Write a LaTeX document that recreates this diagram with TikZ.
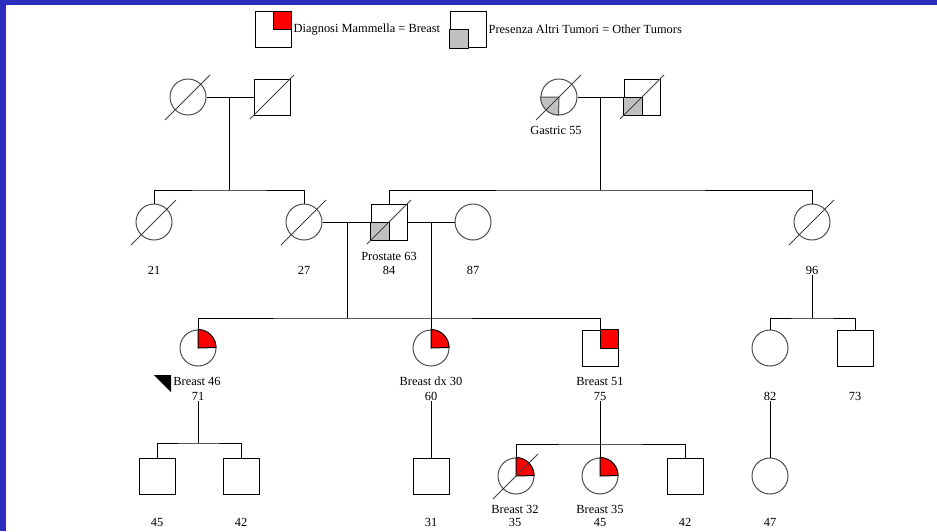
\documentclass[tikz,border=0pt]{standalone}
\usepackage{fontspec}
\setmainfont{Liberation Serif}
\usetikzlibrary{positioning}

\definecolor{frameblue}{RGB}{46,46,190}
\definecolor{silver}{RGB}{192,192,192}

\tikzset{
  female/.style={circle,draw=gray!60!black,line width=1pt,minimum size=36pt,inner sep=0pt},
  male/.style={rectangle,draw=black,line width=1pt,minimum size=36pt,inner sep=0pt},
  strike/.style={draw=gray!50!black,line width=0.8pt},
  link/.style={draw=black,line width=1pt},
  lbl/.style={inner sep=1pt,font=\fontsize{12.4}{15}\selectfont}
}

\begin{document}
\begin{tikzpicture}[x=1pt,y=1pt]
			\useasboundingbox (0,0) rectangle (937,-531);
			% slide frame
			\fill[frameblue] (0,0) rectangle (937,-5);
			\fill[frameblue] (0,0) rectangle (6,-531);
			% legend
			\node[male] (legA) at (273,-29.5) {};
			\filldraw[fill=red,line width=1pt] (legA.center) rectangle (legA.north east);
			\node[lbl,right=1pt of legA] (legAt) {Diagnosi Mammella = Breast};
			\node[male] (legB) at (468,-29.5) {};
			\filldraw[fill=silver,line width=1pt] (legB.center) rectangle (legB.south west);
			\node[lbl,right=1pt of legB] (legBt) {Presenza Altri Tumori = Other Tumors};
			% generation I
			\node[female] (gm1) at (188,-97) {};
			\node[male] (gf1) at (272,-97) {};
			\node[female] (gm2) at (559,-97) {};
			\node[male] (gf2) at (642,-97) {};
			\filldraw[fill=silver,draw=gray!60!black,line width=1pt] (gm2.center) -- (gm2.west) arc[start angle=180,end angle=270,radius=18pt] -- cycle;
			\filldraw[fill=silver,line width=1pt] (gf2.center) rectangle (gf2.south west);
			\draw[strike] (gm1.center) +(-23,-23) -- +(22,22);
			\draw[strike] (gf1.center) +(-22,-22) -- +(22,22);
			\draw[strike] (gm2.center) +(-23,-23) -- +(22,22);
			\draw[strike] (gf2.center) +(-22,-22) -- +(22,22);
			\node[lbl] (tgm2) at (556,-130) {Gastric 55};
			\draw[link] (gm1) -- (gf1);
			\draw[link] (gm2) -- (gf2);
			\coordinate (d1) at (229,-97);
			\coordinate (s1) at (229,-190);
			\coordinate (d2) at (600,-97);
			\coordinate (s2) at (600,-190);
			% generation II
			\node[female] (p21) at (154,-222) {};
			\node[female] (p27) at (304,-222) {};
			\node[male] (p84) at (389,-222) {};
			\node[female] (p87) at (473,-222) {};
			\node[female] (p96) at (812,-222) {};
			\filldraw[fill=silver,line width=1pt] (p84.center) rectangle (p84.south west);
			\draw[strike] (p21.center) +(-23,-23) -- +(22,22);
			\draw[strike] (p27.center) +(-23,-23) -- +(22,22);
			\draw[strike] (p84.center) +(-22,-22) -- +(22,22);
			\draw[strike] (p96.center) +(-23,-23) -- +(22,22);
			\draw[link] (d1) -- (s1);
			\draw[link] (p21.north) |- (s1) -| (p27.north);
			\draw[link] (d2) -- (s2);
			\draw[link] (p84.north) |- (s2) -| (p96.north);
			\draw[link] (p27) -- (p84);
			\draw[link] (p84) -- (p87);
			\node[lbl] (t84) at (389,-256) {Prostate 63};
			\node[lbl] (a21) at (154,-270) {21};
			\node[lbl] (a27) at (304,-270) {27};
			\node[lbl] (a84) at (389,-270) {84};
			\node[lbl] (a87) at (473,-270) {87};
			\node[lbl] (a96) at (812,-270) {96};
			\coordinate (d3) at (347,-222);
			\coordinate (d4) at (431,-222);
			\coordinate (s3) at (347,-318);
			\coordinate (s4) at (812,-318);
			% generation III
			\node[female] (p71) at (198,-348) {};
			\node[female] (p60) at (431,-348) {};
			\node[male] (p75) at (600,-348) {};
			\node[female] (p82) at (770,-348) {};
			\node[male] (p73) at (855,-348) {};
			\filldraw[fill=red,draw=black,line width=1pt] (p71.center) -- (p71.north) arc[start angle=90,end angle=0,radius=18pt] -- cycle;
			\filldraw[fill=red,draw=black,line width=1pt] (p60.center) -- (p60.north) arc[start angle=90,end angle=0,radius=18pt] -- cycle;
			\filldraw[fill=red,line width=1pt] (p75.center) rectangle (p75.north east);
			\draw[link] (d3) -- (s3);
			\draw[link] (p71.north) |- (s3) -| (p75.north);
			\draw[link] (d4) -- (p60.north);
			\draw[link] (a96.south) -- (s4);
			\draw[link] (p82.north) |- (s4) -| (p73.north);
			\node[lbl] (t71) at (197,-381) {Breast 46};
			\fill (154,-375) -- (171,-375) -- (171,-392) -- cycle; % proband
			\node[lbl] (t60) at (431,-381) {Breast dx 30};
			\node[lbl] (t75) at (600,-381) {Breast 51};
			\node[lbl] (a71) at (198,-396) {71};
			\node[lbl] (a60) at (431,-396) {60};
			\node[lbl] (a75) at (600,-396) {75};
			\node[lbl] (a82) at (770,-396) {82};
			\node[lbl] (a73) at (855,-396) {73};
			\coordinate (s5) at (198,-443);
			\coordinate (s6) at (600,-444);
			% generation IV
			\node[male] (p45) at (157,-476) {};
			\node[male] (p42) at (241,-476) {};
			\node[male] (p31) at (431,-476) {};
			\node[female] (p35) at (516,-476) {};
			\node[female] (p45b) at (600,-476) {};
			\node[male] (p42b) at (685,-476) {};
			\node[female] (p47) at (770,-476) {};
			\filldraw[fill=red,draw=black,line width=1pt] (p35.center) -- (p35.north) arc[start angle=90,end angle=0,radius=18pt] -- cycle;
			\filldraw[fill=red,draw=black,line width=1pt] (p45b.center) -- (p45b.north) arc[start angle=90,end angle=0,radius=18pt] -- cycle;
			\draw[strike] (p35.center) +(-23,-23) -- +(22,22);
			\draw[link] (a71.south) -- (s5);
			\draw[link] (p45.north) |- (s5) -| (p42.north);
			\draw[link] (a60.south) -- (p31.north);
			\draw[link] (a75.south) -- (p45b.north);
			\draw[link] (p35.north) |- (s6) -| (p42b.north);
			\draw[link] (a82.south) -- (p47.north);
			\node[lbl] (t35) at (515,-509) {Breast 32};
			\node[lbl] (t45b) at (600,-509) {Breast 35};
			\node[lbl] (a45) at (157,-522) {45};
			\node[lbl] (a42) at (241,-522) {42};
			\node[lbl] (a31) at (431,-522) {31};
			\node[lbl] (a35) at (515,-522) {35};
			\node[lbl] (a45b) at (600,-522) {45};
			\node[lbl] (a42b) at (685,-522) {42};
			\node[lbl] (a47) at (770,-522) {47};
		\end{tikzpicture}
\end{document}
